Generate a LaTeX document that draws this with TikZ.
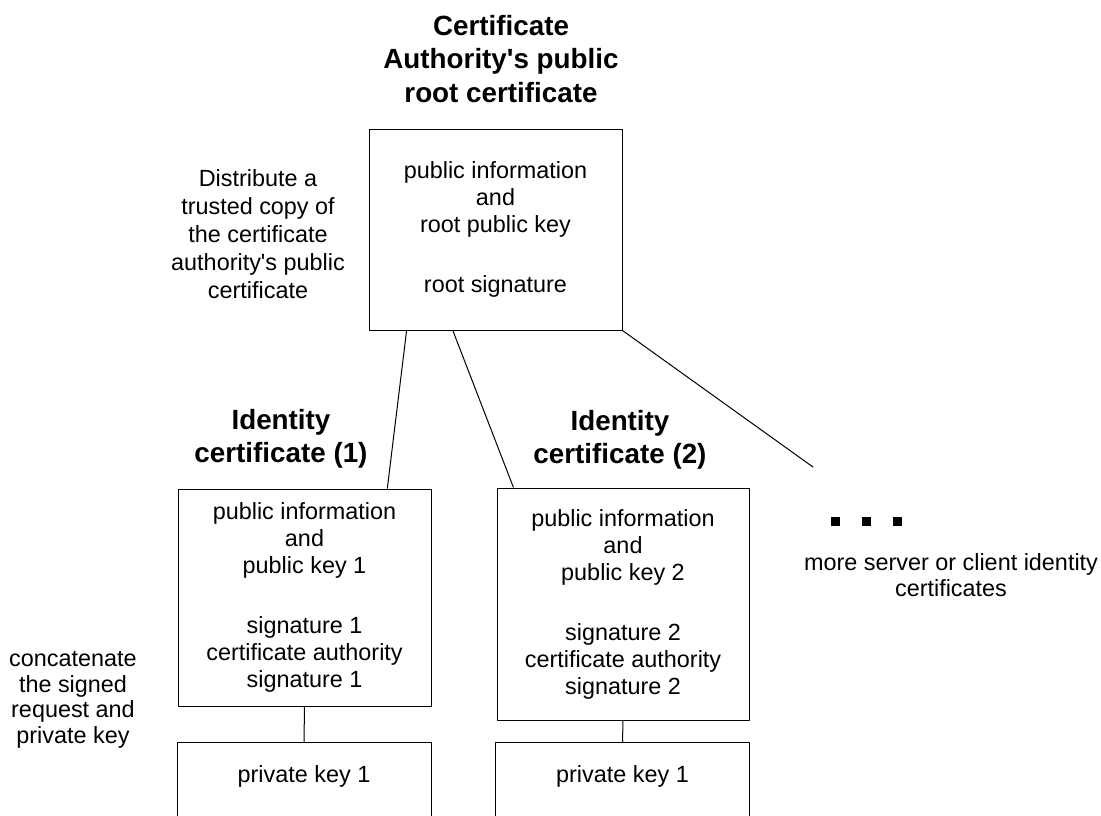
\documentclass[tikz,border=0pt]{standalone}
\usepackage{fontspec}
\setmainfont{Liberation Sans}[Ligatures=TeXOff]
\usetikzlibrary{calc}
\begin{document}
\begin{tikzpicture}
	[x=1pt, y=-1pt, line width=1pt, line join=round,
	 txt/.style={align=center, font=\fontsize{23.4}{27}\selectfont},
	 head/.style={align=center, font=\bfseries\fontsize{27.8}{33.5}\selectfont},
	 certbox/.style={txt, draw, minimum width=253pt, inner sep=0pt},
	 keybox/.style={draw, font=\fontsize{23.4}{27}\selectfont, minimum width=254pt, anchor=north,
		inner xsep=0pt, inner ysep=23pt, text height=17pt, text depth=80pt},
	 sq/.style={fill, minimum size=9pt, inner sep=0pt}]
	\clip (0,0) rectangle (1101,815);
	% root certificate
	\node[head] (roottitle) at (501,59) {Certificate\\Authority's public\\root certificate};
	\node[certbox, minimum height=201pt] (root) at (495.5,229.5)
		{public information\\and\\root public key\\[33pt]root signature};
	\node[txt, font=\fontsize{23.4}{28}\selectfont] (distnote) at (258,234)
		{Distribute a\\trusted copy of\\the certificate\\authority's public\\certificate};
	% identity certificates
	\node[head] (id1) at (281,439) {Identity\\certificate (1)};
	\node[head] (id2) at (620,440) {Identity\\certificate (2)};
	\node[certbox, minimum height=217pt] (cert1) at (304.5,597.5)
		{public information\\and\\public key 1\\[33pt]signature 1\\certificate authority\\signature 1};
	\node[certbox, minimum width=252pt, minimum height=232pt] (cert2) at (623,604)
		{public information\\and\\public key 2\\[33pt]signature 2\\certificate authority\\signature 2};
	\node[keybox] (key1) at (304,742) {private key 1};
	\node[keybox] (key2) at (622.5,742) {private key 1};
	\node[txt, font=\fontsize{23.4}{25.5}\selectfont] (concat) at (73,700)
		{concatenate\\the signed\\request and\\private key};
	% the rest
	\coordinate (moreend) at (813,467);
	\node[sq] (more1) at (835,521) {};
	\node[sq] (more2) at (866,521) {};
	\node[sq] (more3) at (897,521) {};
	\node[txt, font=\fontsize{23.4}{26}\selectfont] (moretxt) at (951,575)
		{more server or client identity\\certificates};
	% links
	\draw ($(root.south west)!0.15!(root.south east)$) -- ($(cert1.north west)!0.826!(cert1.north east)$);
	\draw ($(root.south west)!0.332!(root.south east)$) -- ($(cert2.north west)!0.067!(cert2.north east)$);
	\draw (root.south east) -- (moreend);
	\draw (cert1.south) -- (key1.north);
	\draw (cert2.south) -- (key2.north);
\end{tikzpicture}
\end{document}
